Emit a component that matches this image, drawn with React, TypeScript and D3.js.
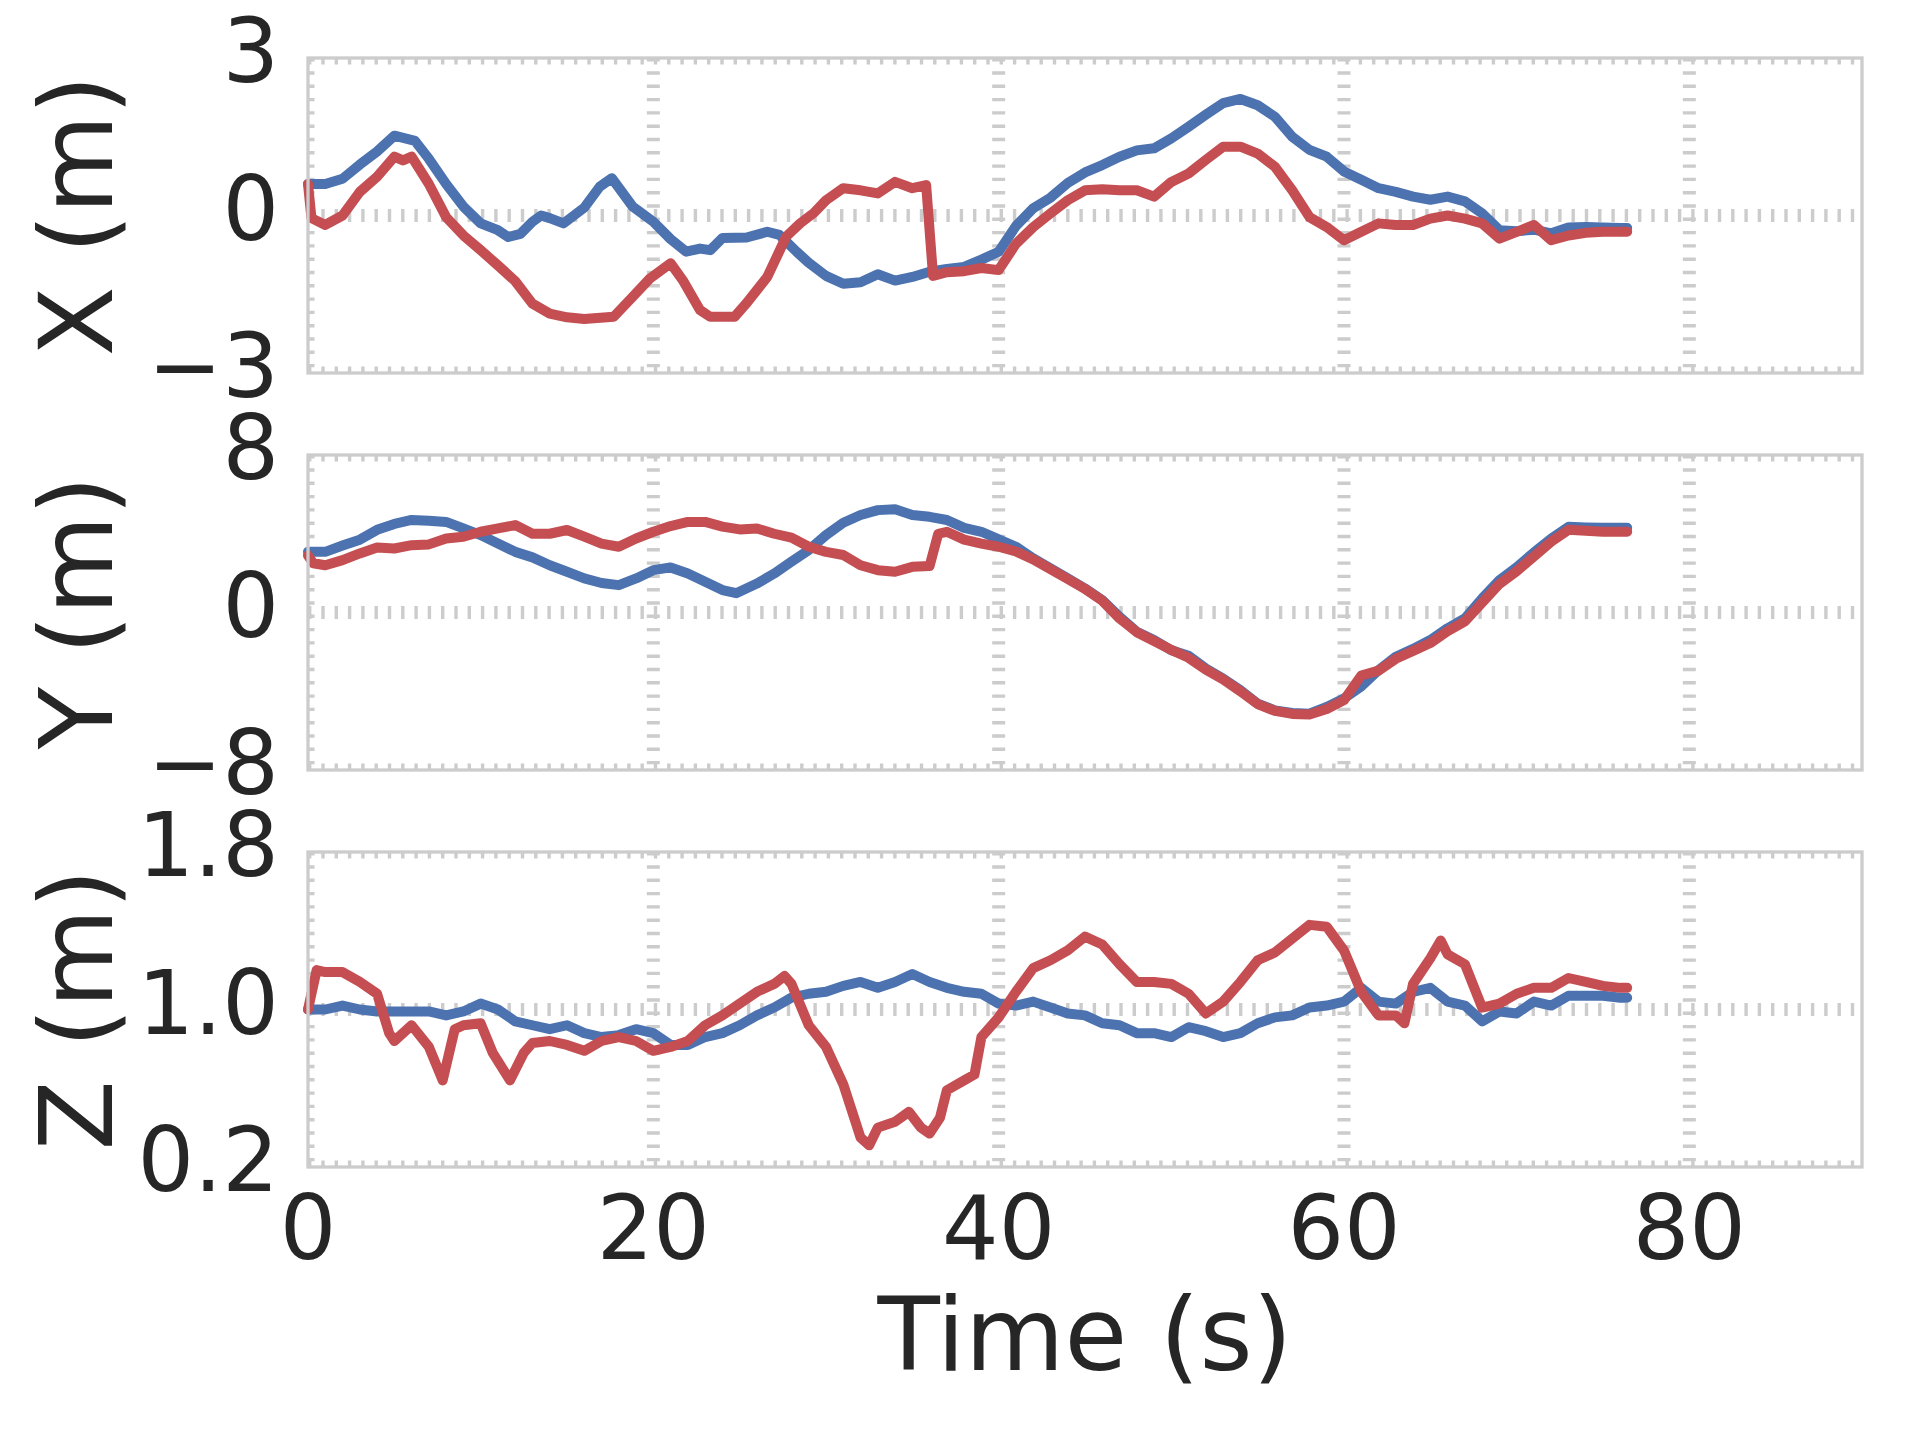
import { useEffect, useRef } from 'react';
import * as d3 from 'd3';

// time (s), value pairs
const xBlue: [number, number][] = [
  [0, 0.6], [1, 0.6], [2, 0.7], [3, 0.97], [4, 1.22], [5, 1.52], [6.2, 1.42], [7, 1.08], [8, 0.6], [9, 0.17],
  [10, -0.15], [11, -0.28], [11.6, -0.41], [12.3, -0.35], [13, -0.12], [13.5, 0.0], [14, -0.05], [14.8, -0.15],
  [16, 0.15], [16.9, 0.55], [17.6, 0.71], [18.8, 0.17], [20, -0.12], [21, -0.45], [21.9, -0.69], [22.7, -0.63],
  [23.3, -0.66], [24, -0.43], [25.4, -0.42], [26.6, -0.31], [27.3, -0.37], [28.3, -0.69], [29, -0.9],
  [30, -1.15], [31, -1.3], [32, -1.27], [33, -1.12], [34, -1.24], [35, -1.17], [36, -1.07], [37, -1.02],
  [38, -0.98], [39, -0.84], [40, -0.69], [41, -0.2], [42, 0.14], [43, 0.34], [44, 0.62], [45, 0.82], [46, 0.96],
  [47, 1.12], [48, 1.24], [49, 1.28], [50, 1.47], [51, 1.69], [52, 1.92], [53, 2.14], [54, 2.22], [55, 2.1],
  [56, 1.88], [57, 1.5], [58, 1.25], [59, 1.12], [60, 0.84], [61, 0.68], [62, 0.52], [63, 0.45], [64, 0.36],
  [65, 0.3], [66, 0.36], [67, 0.27], [68, 0.04], [69, -0.28], [70, -0.3], [71, -0.27], [72, -0.34], [73, -0.23],
  [74, -0.22], [75, -0.23], [76, -0.24], [76.4, -0.24],
];
const xRed: [number, number][] = [
  [0, 0.6], [0.2, -0.05], [1, -0.18], [2, 0.0], [3, 0.45], [4, 0.74], [5, 1.12], [5.5, 1.05], [6, 1.12],
  [7, 0.6], [8, -0.03], [9, -0.38], [10, -0.66], [11, -0.95], [12, -1.25], [13, -1.68], [14, -1.87],
  [15, -1.94], [16, -1.97], [17.7, -1.93], [18.8, -1.55], [19.8, -1.2], [21, -0.91], [21.7, -1.23],
  [22.7, -1.8], [23.3, -1.93], [24.7, -1.93], [25.4, -1.67], [26.6, -1.17], [27.7, -0.4], [28.5, -0.15],
  [29.3, 0.05], [30, 0.29], [31, 0.52], [32, 0.48], [33, 0.42], [34, 0.64], [35, 0.52], [35.8, 0.58],
  [36.2, -1.15], [37, -1.08], [38, -1.06], [39, -1.0], [40, -1.04], [41, -0.54], [42, -0.22], [43, 0.04],
  [44, 0.29], [45, 0.48], [46, 0.5], [47, 0.48], [48, 0.48], [49, 0.36], [50, 0.64], [51, 0.8], [52, 1.06],
  [53, 1.31], [54, 1.31], [55, 1.18], [56, 0.93], [57, 0.48], [58, -0.03], [59, -0.22], [60, -0.47],
  [61, -0.31], [62, -0.15], [63, -0.18], [64, -0.18], [65, -0.06], [66, 0.0], [67, -0.06], [68, -0.15],
  [69, -0.44], [70, -0.31], [71, -0.18], [72, -0.47], [73, -0.38], [74, -0.33], [75, -0.31], [76, -0.31],
  [76.4, -0.31],
];

const yBlue: [number, number][] = [
  [0, 3.08], [1, 3.08], [2, 3.4], [3, 3.7], [4, 4.2], [5, 4.5], [6, 4.7], [7, 4.66], [8, 4.6], [9, 4.27],
  [10, 3.93], [11, 3.5], [12, 3.08], [13, 2.8], [14, 2.4], [15, 2.07], [16, 1.73], [17, 1.5], [18, 1.39],
  [19, 1.73], [20, 2.15], [21, 2.29], [22, 1.98], [23, 1.56], [24, 1.14], [24.8, 0.98], [26, 1.47], [27, 1.98],
  [28, 2.58], [29, 3.17], [30, 3.93], [31, 4.56], [32, 4.95], [33, 5.2], [34, 5.24], [35, 4.95], [36, 4.86],
  [37, 4.7], [38, 4.3], [39, 4.1], [40, 3.72], [41, 3.34], [42, 2.75], [43, 2.24], [44, 1.73], [45, 1.22],
  [46, 0.63], [47, -0.22], [48, -0.98], [49, -1.4], [50, -1.92], [51, -2.2], [52, -2.85], [53, -3.36],
  [54, -3.95], [55, -4.63], [56, -4.97], [57, -5.1], [58, -5.14], [59, -4.8], [60, -4.37], [61, -3.75],
  [62, -2.93], [63, -2.25], [64, -1.85], [65, -1.4], [66, -0.8], [67, -0.3], [68, 0.71], [69, 1.64],
  [70, 2.3], [71, 3.05], [72, 3.75], [73, 4.35], [74, 4.32], [75, 4.3], [76, 4.3], [76.4, 4.3],
];
const yRed: [number, number][] = [
  [0, 2.9], [0.3, 2.5], [1, 2.4], [2, 2.66], [3, 3.0], [4, 3.3], [5, 3.25], [6, 3.42], [7, 3.46], [8, 3.76],
  [9, 3.85], [10, 4.1], [11, 4.27], [12, 4.44], [13, 4.0], [14, 4.0], [15, 4.19], [16, 3.85], [17, 3.5],
  [18, 3.34], [19, 3.76], [20, 4.1], [21, 4.39], [22, 4.6], [23, 4.6], [24, 4.36], [25, 4.22], [26, 4.27],
  [27, 4.0], [28, 3.8], [29, 3.34], [30, 3.08], [31, 2.92], [32, 2.4], [33, 2.15], [34, 2.07], [35, 2.32],
  [36, 2.36], [36.5, 4.0], [37, 4.1], [38, 3.7], [39, 3.5], [40, 3.34], [41, 3.1], [42, 2.7], [43, 2.2],
  [44, 1.7], [45, 1.2], [46, 0.6], [47, -0.3], [48, -1.0], [49, -1.45], [50, -1.9], [51, -2.3], [52, -2.9],
  [53, -3.4], [54, -4.0], [55, -4.65], [56, -5.0], [57, -5.15], [58, -5.18], [59, -4.9], [60, -4.45],
  [61, -3.2], [62, -2.95], [63, -2.35], [64, -1.95], [65, -1.55], [66, -0.95], [67, -0.45], [68, 0.5],
  [69, 1.45], [70, 2.1], [71, 2.85], [72, 3.6], [73, 4.2], [74, 4.15], [75, 4.1], [76, 4.1], [76.4, 4.1],
];

const zBlue: [number, number][] = [
  [0, 1.0], [1, 1.0], [2, 1.02], [3, 1.0], [4, 0.99], [5, 0.99], [6, 0.99], [7, 0.99], [8, 0.97], [9, 0.99],
  [10, 1.03], [11, 1.0], [12, 0.94], [13, 0.92], [14, 0.9], [15, 0.92], [16, 0.88], [17, 0.86], [18, 0.87],
  [19, 0.9], [20, 0.88], [21, 0.82], [22, 0.82], [23, 0.86], [24, 0.88], [25, 0.92], [26, 0.97], [27, 1.01],
  [28, 1.06], [29, 1.08], [30, 1.09], [31, 1.12], [32, 1.14], [33, 1.11], [34, 1.14], [35, 1.18], [36, 1.14],
  [37, 1.11], [38, 1.09], [39, 1.08], [40, 1.03], [41, 1.02], [42, 1.04], [43, 1.01], [44, 0.98], [45, 0.97],
  [46, 0.93], [47, 0.92], [48, 0.88], [49, 0.88], [50, 0.86], [51, 0.91], [52, 0.89], [53, 0.86], [54, 0.88],
  [55, 0.93], [56, 0.96], [57, 0.97], [58, 1.01], [59, 1.02], [60, 1.04], [61, 1.11], [62, 1.04], [63, 1.03],
  [64, 1.09], [65, 1.11], [66, 1.04], [67, 1.02], [68, 0.94], [69, 0.99], [70, 0.98], [71, 1.04], [72, 1.02],
  [73, 1.07], [74, 1.07], [75, 1.07], [76, 1.06], [76.4, 1.06],
];
const zRed: [number, number][] = [
  [0, 1.0], [0.5, 1.2], [1, 1.19], [2, 1.19], [3, 1.14], [4, 1.08], [4.7, 0.88], [5, 0.84], [6, 0.92],
  [7, 0.81], [7.8, 0.64], [8.5, 0.9], [9, 0.92], [10, 0.93], [10.7, 0.78], [11.7, 0.64], [12.5, 0.78],
  [13, 0.83], [14, 0.84], [15, 0.82], [16, 0.79], [17, 0.84], [18, 0.86], [19, 0.84], [20, 0.79], [21, 0.81],
  [22, 0.84], [23, 0.92], [24, 0.97], [25, 1.03], [26, 1.09], [27, 1.13], [27.6, 1.17], [28, 1.13], [29, 0.92],
  [30, 0.81], [31, 0.62], [32, 0.35], [32.5, 0.31], [33, 0.4], [34, 0.43], [34.8, 0.48], [35.5, 0.4],
  [36, 0.37], [36.6, 0.45], [37, 0.59], [38, 0.64], [38.6, 0.67], [39, 0.86], [40, 0.96], [41, 1.09],
  [42, 1.21], [43, 1.25], [44, 1.3], [45, 1.37], [46, 1.33], [47, 1.23], [48, 1.14], [49, 1.14], [50, 1.13],
  [51, 1.08], [52, 0.98], [53, 1.04], [54, 1.14], [55, 1.25], [56, 1.29], [57, 1.36], [58, 1.43], [59, 1.42],
  [60, 1.3], [61, 1.09], [62, 0.97], [63, 0.97], [63.5, 0.93], [64, 1.13], [65, 1.26], [65.6, 1.35],
  [66, 1.28], [67, 1.23], [68, 1.01], [69, 1.03], [70, 1.08], [71, 1.11], [72, 1.11], [73, 1.16], [74, 1.14],
  [75, 1.12], [76, 1.11], [76.4, 1.11],
];

const timeTicks = [0, 20, 40, 60, 80];
const xTicks = [-3, 0, 3];
const yTicks = [-8, 0, 8];
const zTicks = [0.2, 1.0, 1.8];
const xTickLabels = ['\u22123', '0', '3'];
const yTickLabels = ['\u22128', '0', '8'];
const zTickLabels = ['0.2', '1.0', '1.8'];
const panelLabels = ['X (m)', 'Y (m)', 'Z (m)'];

const BLUE = '#4c72b0';
const RED = '#c44e52';
const GRID = '#cccccc';
const TEXT = '#262626';

const App: React.FC = () => {
  const ref = useRef<SVGSVGElement | null>(null);

  useEffect(() => {
    document.body.style.margin = '0';
    const width = 1920;
    const height = 1440;
    const left = 308;
    const right = 1862;
    const panelH = 315;
    const tops = [58, 455, 852];
    const font = 'DejaVu Sans';

    const svg = d3.select(ref.current)
      .attr('width', width)
      .attr('height', height);
    svg.selectAll('*').remove();

    svg.append('rect').attr('width', width).attr('height', height).attr('fill', '#fff');

    const x = d3.scaleLinear().domain([0, 90]).range([left, right]);

    const panels = [
      { blue: xBlue, red: xRed, ticks: xTicks, labels: xTickLabels },
      { blue: yBlue, red: yRed, ticks: yTicks, labels: yTickLabels },
      { blue: zBlue, red: zRed, ticks: zTicks, labels: zTickLabels },
    ];

    panels.forEach((p, i) => {
      const top = tops[i];
      const bottom = top + panelH;
      const y = d3.scaleLinear()
        .domain([p.ticks[0], p.ticks[2]])
        .range([bottom, top]);

      const clipId = `clip-${i}`;
      svg.append('clipPath').attr('id', clipId)
        .append('rect')
        .attr('x', left).attr('y', top)
        .attr('width', right - left).attr('height', panelH);

      // dotted grid, clipped to the axes like matplotlib does
      const grid = svg.append('g').attr('clip-path', `url(#${clipId})`);
      grid.selectAll('line.v')
        .data(timeTicks)
        .join('line')
        .attr('x1', d => x(d)).attr('x2', d => x(d))
        .attr('y1', top).attr('y2', bottom)
        .attr('stroke', GRID)
        .attr('stroke-width', 13)
        .attr('stroke-dasharray', '3.4 9.9');
      grid.selectAll('line.h')
        .data(p.ticks)
        .join('line')
        .attr('x1', left).attr('x2', right)
        .attr('y1', d => y(d)).attr('y2', d => y(d))
        .attr('stroke', GRID)
        .attr('stroke-width', 13)
        .attr('stroke-dasharray', '3.4 9.9');

      const line = d3.line<[number, number]>()
        .x(d => x(d[0]))
        .y(d => y(d[1]));

      [[p.blue, BLUE], [p.red, RED]].forEach(([data, color]) => {
        svg.append('path')
          .datum(data as [number, number][])
          .attr('d', line)
          .attr('fill', 'none')
          .attr('stroke', color as string)
          .attr('stroke-width', 10)
          .attr('stroke-linejoin', 'round')
          .attr('stroke-linecap', 'round');
      });

      svg.append('rect')
        .attr('x', left).attr('y', top)
        .attr('width', right - left).attr('height', panelH)
        .attr('fill', 'none')
        .attr('stroke', GRID)
        .attr('stroke-width', 3.3);

      svg.append('g')
        .selectAll('text')
        .data(p.ticks)
        .join('text')
        .attr('x', left - 29)
        .attr('y', d => y(d) + 24)
        .attr('text-anchor', 'end')
        .attr('font-family', font)
        .attr('font-size', 89)
        .attr('fill', TEXT)
        .text((d, k) => p.labels[k]);

      svg.append('text')
        .attr('transform', `translate(112,${top + panelH / 2}) rotate(-90)`)
        .attr('text-anchor', 'middle')
        .attr('font-family', font)
        .attr('font-size', 102)
        .attr('fill', TEXT)
        .text(panelLabels[i]);
    });

    svg.append('g')
      .selectAll('text')
      .data(timeTicks)
      .join('text')
      .attr('x', d => x(d))
      .attr('y', 1259)
      .attr('text-anchor', 'middle')
      .attr('font-family', font)
      .attr('font-size', 89)
      .attr('fill', TEXT)
      .text(d => String(d));

    svg.append('text')
      .attr('x', (left + right) / 2)
      .attr('y', 1370)
      .attr('text-anchor', 'middle')
      .attr('font-family', font)
      .attr('font-size', 102)
      .attr('fill', TEXT)
      .text('Time (s)');
  }, []);

  return <svg ref={ref}></svg>;
};

export default App;
